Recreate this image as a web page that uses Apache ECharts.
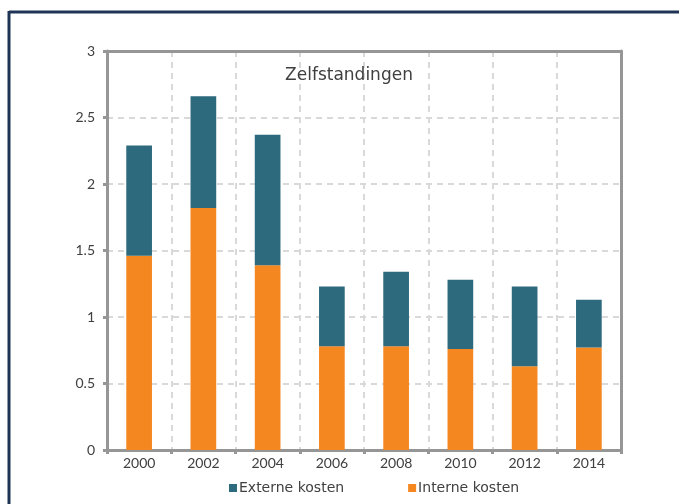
<!DOCTYPE html>
<html>
<head>
<meta charset="utf-8">
<script src="https://cdn.jsdelivr.net/npm/echarts@6/dist/echarts.min.js"></script>
<style>
html, body { margin: 0; padding: 0; background: #fff; }
#chart { width: 679px; height: 504px; }
</style>
</head>
<body>
<div id="chart"></div>
<script>
// jaren en kosten
var years = ['2000', '2002', '2004', '2006', '2008', '2010', '2012', '2014'];
var interne = [1.46, 1.82, 1.39, 0.78, 0.78, 0.76, 0.63, 0.77];
var externe = [0.83, 0.84, 0.98, 0.45, 0.56, 0.52, 0.60, 0.36];

var chart = echarts.init(document.getElementById('chart'));

var font = 'Lato, "DejaVu Sans", sans-serif';
var axisGray = '#969696';
var gridLine = { show: true, lineStyle: { color: '#d9d9d9', width: 2, type: [6, 5] } };

option = {
    animation: false,
    title: {
        text: 'Zelfstandingen',
        left: 344,
        textAlign: 'center',
        top: 62,
        textStyle: {
            fontFamily: '"DejaVu Sans", sans-serif',
            fontSize: 17,
            fontWeight: 'normal',
            color: '#404040'
        }
    },
    legend: {
        data: ['Externe kosten', 'Interne kosten'],
        left: 224,
        top: 476,
        icon: 'rect',
        itemWidth: 8,
        itemHeight: 8,
        itemGap: 64,
        textStyle: {
            fontFamily: '"DejaVu Sans", sans-serif',
            fontSize: 14,
            color: '#404040',
            padding: [0, 0, 0, -3]
        }
    },
    graphic: [
        // donkerblauwe rand links en boven
        { type: 'line', shape: { x1: 9, y1: 12, x2: 679, y2: 12 }, style: { stroke: '#1f3454', lineWidth: 3 } },
        { type: 'line', shape: { x1: 9, y1: 11, x2: 9, y2: 504 }, style: { stroke: '#1f3454', lineWidth: 3 } }
    ],
    grid: {
        left: 107,
        right: 58,
        top: 51,
        bottom: 54
    },
    xAxis: [{
        type: 'category',
        data: years,
        axisLine: { lineStyle: { color: axisGray, width: 3 } },
        axisTick: { show: true, length: 4, lineStyle: { color: axisGray, width: 3 } },
        axisLabel: { fontFamily: font, fontSize: 14, color: '#404040', margin: 6 },
        splitLine: gridLine
    }, {
        // bovenrand
        type: 'category',
        data: years,
        position: 'top',
        z: 3,
        axisLine: { show: true, onZero: false, lineStyle: { color: axisGray, width: 3 } },
        axisTick: { show: false },
        axisLabel: { show: false },
        splitLine: { show: false }
    }],
    yAxis: [{
        type: 'value',
        min: 0,
        max: 3,
        interval: 0.5,
        axisLine: { show: true, lineStyle: { color: axisGray, width: 3 } },
        axisTick: { show: true, length: 4, lineStyle: { color: axisGray, width: 3 } },
        axisLabel: { fontFamily: font, fontSize: 14, color: '#404040', margin: 12 },
        splitLine: gridLine
    }, {
        // rechterrand
        type: 'value',
        min: 0,
        max: 3,
        interval: 0.5,
        position: 'right',
        z: 3,
        axisLine: { show: true, onZero: false, lineStyle: { color: axisGray, width: 3 } },
        axisTick: { show: false },
        axisLabel: { show: false },
        splitLine: { show: false }
    }],
    series: [{
        name: 'Interne kosten',
        type: 'bar',
        stack: 'kosten',
        barWidth: '40%',
        data: interne,
        itemStyle: { color: '#f58720' }
    }, {
        name: 'Externe kosten',
        type: 'bar',
        stack: 'kosten',
        barWidth: '40%',
        data: externe,
        itemStyle: { color: '#2e6a7d' }
    }]
};

chart.setOption(option);
</script>
</body>
</html>
